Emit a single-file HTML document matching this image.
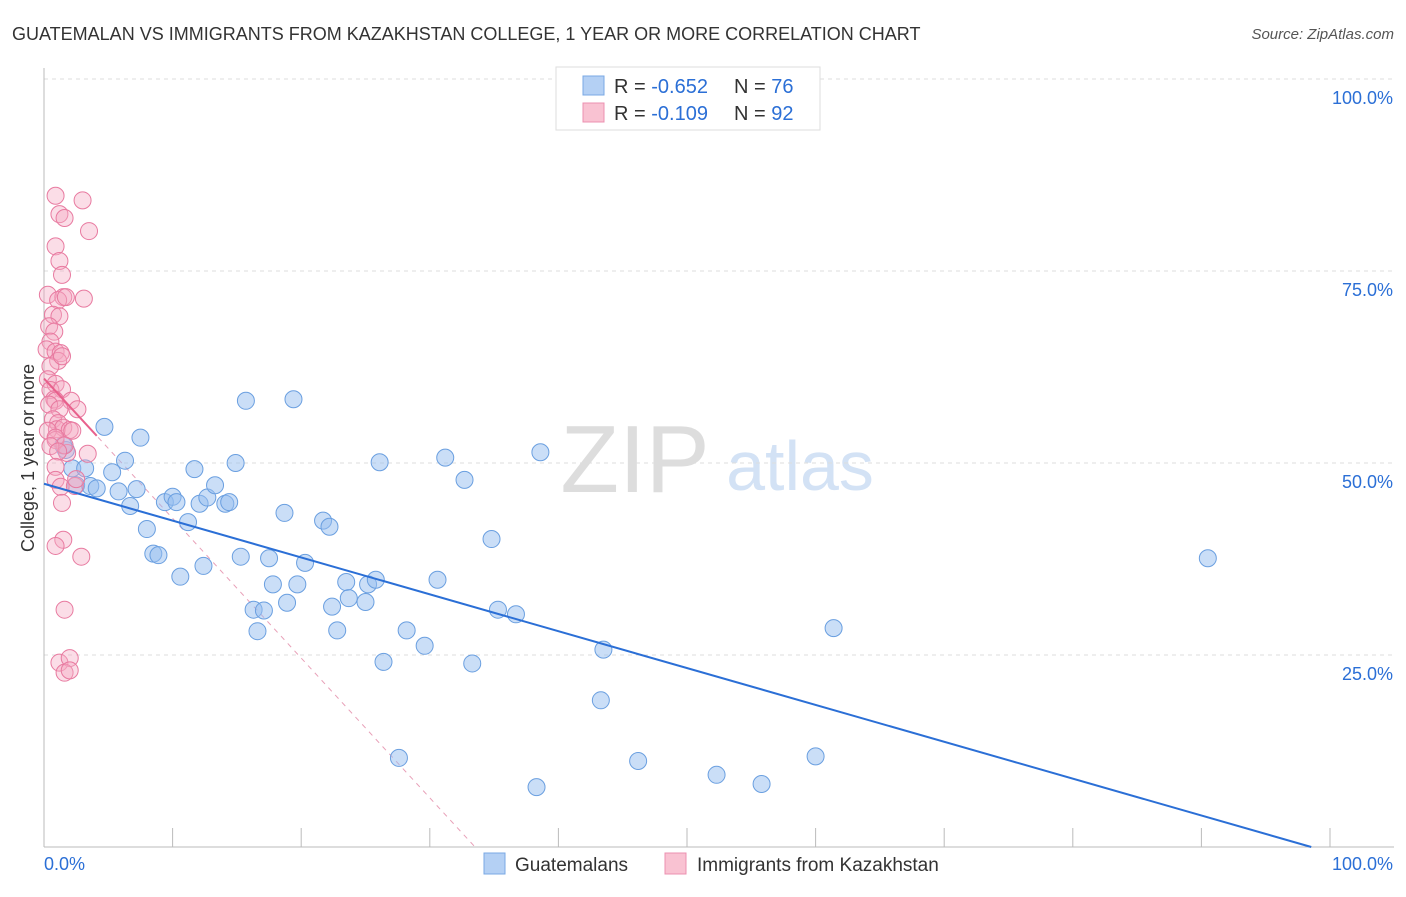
<!DOCTYPE html>
<html><head><meta charset="utf-8">
<style>
body{margin:0;background:#fff;font-family:"Liberation Sans",sans-serif;}
svg text{font-family:"Liberation Sans",sans-serif;}
</style></head>
<body>
<svg id="chart" width="1406" height="892">
<text x="12" y="40" font-size="18" fill="#333">GUATEMALAN VS IMMIGRANTS FROM KAZAKHSTAN COLLEGE, 1 YEAR OR MORE CORRELATION CHART</text>
<text x="1394" y="39" font-size="15" fill="#555" font-style="italic" text-anchor="end">Source: ZipAtlas.com</text>
<g>
<text x="635" y="492" font-size="96" fill="#ddd" text-anchor="middle" font-family="Liberation Serif">ZIP</text>
<text x="800" y="490" font-size="70" fill="#d3e2f5" text-anchor="middle">atlas</text>
</g>
<g id="grid"></g>
<g id="axes"></g>
<g id="marks"></g>
<text transform="translate(34,458) rotate(-90)" font-size="18" fill="#333" text-anchor="middle">College, 1 year or more</text>
<g>
<rect x="556" y="67" width="264" height="63" fill="#fff" stroke="#ddd"/>
<rect x="583" y="76" width="21" height="19" fill="#b4d0f4" stroke="#7aa8e4"/>
<rect x="583" y="103" width="21" height="19" fill="#f9c2d2" stroke="#ec90b0"/>
<text x="614" y="93" font-size="20" fill="#333">R = <tspan fill="#2b6fd6">-0.652</tspan><tspan x="734">N = </tspan><tspan fill="#2b6fd6">76</tspan></text>
<text x="614" y="120" font-size="20" fill="#333">R = <tspan fill="#2b6fd6">-0.109</tspan><tspan x="734">N = </tspan><tspan fill="#2b6fd6">92</tspan></text>
</g>
<g>
<rect x="484" y="853" width="21" height="21" fill="#b4d0f4" stroke="#7aa8e4"/>
<text x="515" y="871" font-size="19" fill="#333">Guatemalans</text>
<rect x="665" y="853" width="21" height="21" fill="#f9c2d2" stroke="#ec90b0"/>
<text x="697" y="871" font-size="19" fill="#333">Immigrants from Kazakhstan</text>
</g>
</svg>
<script>
const yTicks=[25,50,75,100];
const yTickLabels=["25.0%","50.0%","75.0%","100.0%"];
const xTickLabels=["0.0%","100.0%"];
const blueX=[4.7,7.5,1.7,1.5,6.3,2.2,3.2,5.3,2.5,3.6,4.1,5.8,7.2,6.7,8.0,8.5,8.9,10.6,9.4,10.0,10.3,11.2,11.7,12.1,12.7,13.3,14.1,14.4,12.4,14.9,15.3,15.7,16.3,17.1,16.6,17.5,17.8,18.7,18.9,19.4,19.7,20.3,21.7,22.2,22.4,22.8,23.5,23.7,25.0,25.2,25.8,26.1,26.4,27.6,28.2,29.6,30.6,31.2,32.7,33.3,34.8,35.3,36.7,38.3,38.6,43.3,43.5,46.2,52.3,55.8,60.0,61.4,90.5];
const blueY=[54.7,53.3,51.7,52.3,50.3,49.3,49.3,48.8,47.1,47.0,46.7,46.3,46.6,44.4,41.4,38.2,38.0,35.2,44.9,45.6,44.9,42.3,49.2,44.7,45.5,47.1,44.7,44.9,36.6,50.0,37.8,58.1,30.9,30.8,28.1,37.6,34.2,43.5,31.8,58.3,34.2,37.0,42.5,41.7,31.3,28.2,34.5,32.4,31.9,34.2,34.8,50.1,24.1,11.6,28.2,26.2,34.8,50.7,47.8,23.9,40.1,30.9,30.3,7.8,51.4,19.1,25.7,11.2,9.4,8.2,11.8,28.5,37.6];
const pinkX=[0.9,3.0,1.2,1.6,3.5,0.9,1.2,1.4,0.3,1.5,1.1,3.1,1.7,0.7,1.2,0.4,0.8,0.5,0.2,0.9,1.3,1.1,0.5,1.4,0.3,0.9,0.5,1.4,0.8,0.9,2.1,2.6,0.4,1.2,0.7,1.1,1.0,1.5,2.0,2.2,0.3,0.9,1.8,3.4,0.9,1.6,0.5,1.1,0.9,0.9,1.3,2.4,1.4,1.5,0.9,2.9,1.6,1.2,2.0,1.6,2.0,2.5];
const pinkY=[84.8,84.2,82.4,81.9,80.2,78.2,76.3,74.5,71.9,71.6,71.2,71.4,71.6,69.3,69.1,67.8,67.1,65.8,64.8,64.5,64.3,63.3,62.6,63.9,60.9,60.3,59.5,59.6,58.3,58.1,58.1,57.0,57.6,57.0,55.7,55.2,54.4,54.6,54.3,54.2,54.2,53.0,51.3,51.2,53.3,52.3,52.2,51.5,49.5,47.8,46.9,47.0,44.8,40.0,39.2,37.8,30.9,24.0,24.6,22.7,23.0,47.9];
const blueFit=[47.3,-0.48];
const pinkFit=[61.0,-1.82];
const NS="http://www.w3.org/2000/svg";
const X0=44,X1=1330,Y0=847,Y1=79;
function sx(v){return X0+(X1-X0)*v/100;}
function sy(v){return Y0-(Y0-Y1)*v/100;}
function mk(tag,attrs,parent){const e=document.createElementNS(NS,tag);for(const k in attrs)e.setAttribute(k,attrs[k]);parent.appendChild(e);return e;}
const grid=document.getElementById('grid'),axes=document.getElementById('axes'),marks=document.getElementById('marks');
yTicks.forEach((t,i)=>{
  const l=mk('line',{x1:X0,x2:1394,y1:sy(t),y2:sy(t),stroke:'#ddd','stroke-dasharray':'4,4'},grid);
  
  
  const tx=mk('text',{x:1393,y:sy(t)+25,'font-size':18,fill:'#2b6fd6','text-anchor':'end'},axes);
  tx.textContent=yTickLabels[i];
  
  
});
const ax=mk('line',{x1:X0,x2:X0,y1:68,y2:Y0,stroke:'#bbb'},axes);


const xa=mk('line',{x1:X0,x2:1394,y1:Y0,y2:Y0,stroke:'#bbb'},axes);


for(let i=0;i<=10;i++){
  const t=mk('line',{x1:sx(i*10),x2:sx(i*10),y1:828,y2:Y0,stroke:'#bbb'},axes);
  
  
}
const xl0=mk('text',{x:44,y:870,'font-size':18,fill:'#2b6fd6'},axes);xl0.textContent=xTickLabels[0];


const xl1=mk('text',{x:1393,y:870,'font-size':18,fill:'#2b6fd6','text-anchor':'end'},axes);xl1.textContent=xTickLabels[1];


const pxEnd=-pinkFit[0]/pinkFit[1];
const pd=mk('line',{x1:sx(0),y1:sy(pinkFit[0]),x2:sx(pxEnd),y2:sy(0),stroke:'#e8a0b8','stroke-dasharray':'5,5'},marks);


blueX.forEach((x,i)=>{
  const c=mk('circle',{cx:sx(x),cy:sy(blueY[i]),r:8.5,fill:'rgba(150,190,240,0.5)',stroke:'#6a9fe0','stroke-width':1},marks);
  
  
});
pinkX.forEach((x,i)=>{
  const c=mk('circle',{cx:sx(x),cy:sy(pinkY[i]),r:8.5,fill:'rgba(246,170,195,0.4)',stroke:'#e87aa0','stroke-width':1},marks);
  
  
});
const bxEnd=Math.min(100,-blueFit[0]/blueFit[1]);
const bl=mk('line',{x1:sx(0),y1:sy(blueFit[0]),x2:sx(bxEnd),y2:sy(blueFit[0]+blueFit[1]*bxEnd),stroke:'#2b6fd6','stroke-width':2},marks);


const pl=mk('line',{x1:sx(0),y1:sy(pinkFit[0]),x2:sx(4.1),y2:sy(pinkFit[0]+pinkFit[1]*4.1),stroke:'#e8608c','stroke-width':2},marks);


</script>
</body></html>
